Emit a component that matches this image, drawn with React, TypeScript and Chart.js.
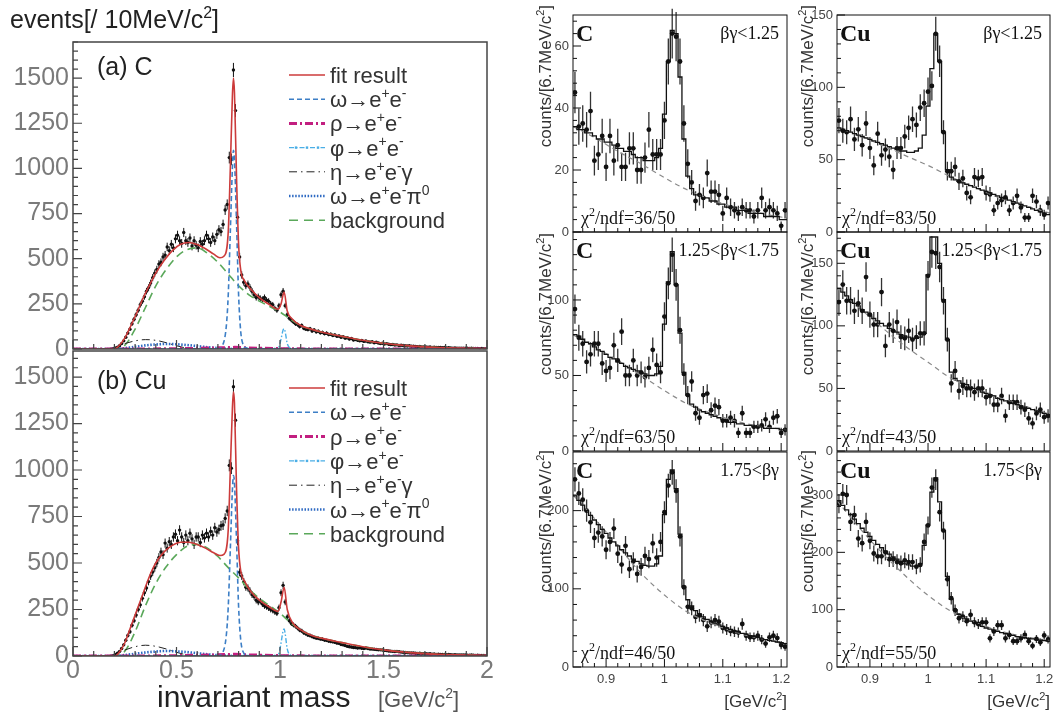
import React, { useEffect, useRef } from "react";
import { Chart, registerables } from "chart.js";

Chart.register(...registerables);

const W = 1055;
const H = 715;
const SANS = "'Liberation Sans', Arial, Helvetica, sans-serif";
const SERIF = "'Liberation Serif', 'Times New Roman', Times, serif";

// ================= LEFT: invariant mass spectra, 10 MeV/c^2 bins =================
const massBinStart = 0.205;
const massBinWidth = 0.01;
const massTicksX = [0, 0.5, 1, 1.5, 2];
const massTicksY = [0, 250, 500, 750, 1000, 1250, 1500];

const massCounts_C = [
  5, 10, 18, 30, 45, 65, 88, 110, 140, 165,
  190, 215, 245, 265, 290, 320, 340, 365, 395, 420,
  440, 470, 480, 510, 520, 565, 545, 580, 560, 610,
  630, 600, 585, 645, 600, 590, 615, 570, 600, 575,
  560, 595, 580, 600, 630, 610, 590, 620, 600, 635,
  660, 650, 690,
  770, 800, 1060, 1050, 1545, 1320, 730, 510,
  410, 370, 350, 360, 340, 320, 300, 285, 290, 280,
  275, 285, 270, 265, 250, 245, 225, 215, 240, 300,
  320, 240, 190, 170, 160, 150, 140, 135, 125, 130,
  115, 110, 108, 112, 100, 105, 95, 98, 90, 92,
  85, 88, 80, 82, 75, 78, 70, 72, 65, 68,
  60, 62, 55, 58, 50, 52, 48, 45, 47, 42,
  44, 40, 38, 40, 35, 37, 33, 30, 32, 28,
  30, 26, 24, 25, 22, 23, 20, 21, 19, 18,
  17, 18, 15, 16, 14, 13, 14, 12, 11, 12,
  10, 11, 9, 10, 8, 9, 8, 7, 8, 6,
  7, 6, 5, 6, 5, 5, 4, 5, 4, 4,
  3, 4, 3, 3, 3, 2, 3, 2, 2,
];

const massCounts_Cu = [
  8, 15, 25, 40, 60, 85, 110, 130, 165, 190,
  220, 250, 275, 310, 340, 366, 400, 430, 452, 475,
  500, 530, 559, 545, 607, 580, 615, 600, 640, 655,
  620, 677, 640, 610, 650, 620, 660, 630, 600, 640,
  640, 610, 650, 635, 660, 640, 670, 650, 690, 667,
  680, 700, 704,
  740, 780, 1025, 1010, 1448, 1268, 620, 450,
  430, 400, 370, 366, 350, 330, 320, 300, 290, 295,
  280, 270, 265, 258, 250, 245, 237, 230, 260, 340,
  380, 290, 210, 190, 175, 167, 160, 150, 140, 135,
  125, 120, 113, 110, 105, 100, 97, 95, 92, 90,
  86, 84, 80, 78, 77, 74, 70, 68, 62, 60,
  56, 52, 50, 48, 46, 45, 43, 44, 42, 40,
  43, 40, 38, 37, 36, 35, 34, 33, 32, 30,
  29, 27, 26, 25, 24, 25, 23, 21, 20, 19,
  18, 17, 16, 17, 15, 14, 15, 13, 12, 13,
  11, 12, 10, 11, 9, 10, 8, 9, 8, 7,
  8, 7, 6, 7, 6, 5, 6, 5, 5, 4,
  4, 5, 4, 3, 4, 3, 3, 3, 2,
];

// fit result (red)
const fitKnots_x = [0, 0.2, 0.22, 0.25, 0.28, 0.31, 0.34, 0.37, 0.4, 0.44, 0.48, 0.52, 0.56, 0.6, 0.64, 0.68, 0.71, 0.73, 0.75, 0.76, 0.77, 0.775, 0.78, 0.79, 0.8, 0.81, 0.83, 0.86, 0.9, 0.95, 0.99, 1.005, 1.02, 1.035, 1.06, 1.1, 1.15, 1.2, 1.3, 1.4, 1.5, 1.6, 1.7, 1.8, 1.9, 2.0];
const fit_C = [0, 0, 15, 60, 130, 205, 285, 355, 420, 490, 545, 580, 590, 578, 555, 525, 505, 515, 650, 1000, 1400, 1500, 1420, 950, 580, 440, 375, 330, 285, 245, 220, 250, 315, 210, 165, 130, 110, 94, 70, 48, 32, 20, 12, 7, 4, 2];
const fit_Cu = [0, 0, 15, 70, 160, 250, 340, 430, 500, 560, 595, 612, 612, 600, 580, 555, 540, 548, 680, 1000, 1330, 1420, 1360, 900, 580, 460, 400, 345, 300, 262, 240, 290, 370, 250, 180, 140, 112, 96, 72, 50, 33, 21, 13, 8, 5, 3];

// background (green dashed)
const bgKnots_x = [0, 0.2, 0.25, 0.3, 0.35, 0.4, 0.45, 0.5, 0.55, 0.6, 0.65, 0.7, 0.75, 0.8, 0.85, 0.9, 0.95, 1.0, 1.05, 1.1, 1.15, 1.2, 1.3, 1.4, 1.5, 1.6, 1.7, 1.8, 1.9, 2.0];
const bg_C = [0, 0, 20, 110, 230, 350, 440, 510, 550, 560, 530, 480, 415, 350, 300, 265, 235, 205, 165, 130, 110, 94, 70, 48, 32, 20, 12, 7, 4, 2];
const bg_Cu = [0, 0, 25, 130, 270, 390, 480, 545, 590, 600, 580, 535, 475, 420, 360, 310, 270, 230, 180, 140, 112, 96, 72, 50, 33, 21, 13, 8, 5, 3];

// omega -> e+e- (blue dashed)
const omegaKnots_x = [0, 0.7, 0.72, 0.74, 0.75, 0.76, 0.77, 0.775, 0.78, 0.79, 0.8, 0.81, 0.82, 0.84, 0.86, 2.0];
const omega_C = [0, 0, 15, 120, 300, 650, 1000, 1100, 1050, 700, 300, 100, 30, 5, 0, 0];
const omega_Cu = [0, 0, 13, 105, 265, 575, 890, 970, 930, 620, 265, 90, 27, 5, 0, 0];

// phi -> e+e- (light blue dash-dot)
const phiKnots_x = [0, 0.98, 0.995, 1.005, 1.015, 1.02, 1.025, 1.035, 1.05, 1.07, 2.0];
const phi_C = [0, 0, 12, 55, 105, 112, 95, 30, 4, 0, 0];
const phi_Cu = [0, 0, 15, 70, 135, 145, 120, 38, 5, 0, 0];

// eta -> e+e-gamma (black dash-dot)
const etaKnots_x = [0, 0.15, 0.2, 0.25, 0.3, 0.35, 0.4, 0.45, 0.5, 0.55, 0.6, 2.0];
const eta_C = [0, 0, 10, 30, 45, 52, 48, 35, 18, 5, 0, 0];
const eta_Cu = [0, 0, 10, 32, 50, 58, 52, 38, 20, 6, 0, 0];

// omega -> e+e-pi0 (blue dotted)
const omDalKnots_x = [0, 0.2, 0.25, 0.3, 0.35, 0.4, 0.45, 0.5, 0.55, 0.6, 0.65, 0.7, 0.75, 0.8, 2.0];
const omDal_C = [0, 0, 5, 12, 20, 25, 28, 26, 22, 16, 10, 5, 1, 0, 0];
const omDal_Cu = [0, 0, 5, 12, 19, 24, 27, 25, 21, 15, 9, 4, 1, 0, 0];

// rho -> e+e- (magenta dash-dot)
const rhoKnots_x = [0, 0.3, 0.5, 0.65, 0.75, 0.78, 0.85, 1.0, 1.2, 2.0];
const rho_C = [0, 0, 2, 5, 8, 9, 6, 2, 0, 0];
const rho_Cu = [0, 0, 2, 5, 8, 9, 6, 2, 0, 0];

const legendNames = ["fit result", "ω→e^{+}e^{-}", "ρ→e^{+}e^{-}", "φ→e^{+}e^{-}", "η→e^{+}e^{-}γ", "ω→e^{+}e^{-}π^{0}", "background"];

// ================= RIGHT: phi region, 6.7 MeV/c^2 bins =================
const phiBinStart = 0.8433;
const phiBinWidth = 0.006667;
const phiRangeMax = 1.21;
const phiTicksX = [0.9, 1.0, 1.1, 1.2];
const phiTicksY_C = [[0, 20, 40, 60], [0, 50, 100], [0, 100, 200]];
const phiTicksY_Cu = [[0, 50, 100, 150], [0, 50, 100, 150], [0, 100, 200, 300]];

const betaGammaLabels = ["βγ<1.25", "1.25<βγ<1.75", "1.75<βγ"];
const chi2_C = ["36/50", "63/50", "46/50"];
const chi2_Cu = ["83/50", "43/50", "55/50"];

const counts_C_1 = [45, 34, 35, 33, 39, 23, 25, 31, 21, 31, 23, 28, 21, 21, 27, 27, 20, 20, 24, 33, 25, 25, 25, 36, 55, 64, 63, 55, 35, 22, 16, 10, 12, 11, 19, 13, 13, 12, 6, 11, 8, 7, 6, 8, 7, 7, 5, 7, 11, 7, 8, 7, 6, 2, 7];
const counts_Cu_1 = [77, 70, 69, 78, 64, 71, 60, 75, 58, 46, 68, 53, 57, 52, 43, 58, 58, 66, 72, 78, 74, 86, 89, 97, 101, 137, 118, 69, 42, 42, 45, 35, 37, 27, 24, 38, 37, 38, 27, 26, 15, 20, 22, 24, 15, 20, 25, 17, 10, 10, 25, 21, 15, 12, 20];
const counts_C_2 = [94, 75, 71, 59, 64, 71, 71, 58, 53, 55, 70, 60, 79, 50, 50, 60, 50, 52, 49, 55, 67, 57, 52, 89, 111, 130, 110, 80, 51, 37, 46, 25, 22, 37, 38, 27, 30, 29, 20, 20, 22, 20, 12, 25, 12, 12, 16, 16, 17, 21, 16, 22, 23, 12, 14];
const counts_Cu_2 = [119, 133, 120, 120, 112, 118, 112, 139, 109, 101, 101, 127, 84, 101, 96, 103, 91, 90, 96, 89, 91, 94, 94, 140, 159, 158, 147, 120, 89, 54, 64, 48, 52, 50, 50, 47, 50, 50, 43, 44, 37, 37, 44, 28, 39, 39, 39, 35, 33, 26, 22, 30, 33, 27, 28];
const counts_C_3 = [240, 222, 214, 200, 185, 165, 172, 167, 150, 160, 177, 145, 131, 155, 125, 135, 119, 128, 142, 138, 158, 140, 160, 198, 232, 249, 225, 167, 102, 77, 75, 64, 66, 60, 52, 57, 60, 58, 50, 48, 46, 45, 44, 55, 40, 38, 38, 40, 35, 30, 38, 40, 37, 28, 26];
const counts_Cu_3 = [285, 302, 300, 253, 265, 224, 216, 253, 220, 198, 193, 193, 200, 188, 188, 183, 181, 186, 183, 183, 175, 178, 218, 247, 313, 327, 270, 238, 153, 120, 99, 85, 88, 80, 91, 78, 75, 78, 78, 50, 62, 73, 73, 50, 56, 45, 45, 50, 56, 45, 37, 49, 43, 55, 48];

const fitHist_C_1 = [34, 33, 33, 32, 32, 31, 30, 30, 29, 29, 28, 27, 27, 26, 26, 25, 24, 24, 23, 23, 23, 24, 27, 38, 55, 65, 64, 50, 30, 18, 14, 12, 12, 11, 11, 10, 10, 9, 9, 8, 8, 8, 7, 7, 7, 6, 6, 6, 6, 5, 5, 5, 5, 4, 4];
const fitHist_Cu_1 = [72, 71, 70, 69, 68, 67, 66, 65, 64, 63, 62, 61, 60, 59, 58, 57, 56, 56, 55, 55, 56, 58, 67, 87, 113, 137, 118, 69, 43, 38, 36, 35, 34, 33, 32, 31, 30, 29, 28, 27, 26, 25, 24, 23, 22, 21, 20, 19, 18, 17, 16, 15, 14, 13, 12];
const fitHist_C_2 = [77, 76, 74, 72, 71, 69, 67, 66, 64, 62, 61, 59, 58, 56, 55, 54, 53, 52, 51, 50, 50, 51, 56, 84, 112, 132, 110, 78, 52, 37, 31, 29, 27, 26, 25, 24, 23, 22, 21, 20, 19, 19, 18, 18, 17, 17, 16, 16, 16, 15, 15, 15, 15, 14, 14];
const fitHist_Cu_2 = [130, 127, 124, 121, 118, 116, 113, 111, 108, 106, 104, 102, 100, 98, 96, 95, 93, 92, 91, 90, 90, 91, 94, 141, 171, 171, 150, 121, 89, 63, 58, 56, 54, 53, 51, 50, 49, 47, 46, 45, 44, 42, 41, 40, 39, 38, 37, 36, 35, 34, 33, 32, 31, 30, 29];
const fitHist_C_3 = [219, 213, 207, 200, 194, 188, 182, 176, 171, 165, 160, 155, 150, 146, 142, 138, 135, 132, 130, 129, 129, 132, 142, 195, 240, 252, 228, 170, 103, 86, 78, 72, 68, 64, 61, 58, 56, 54, 52, 50, 48, 46, 45, 43, 42, 40, 39, 38, 36, 35, 34, 33, 32, 31, 30];
const fitHist_Cu_3 = [290, 282, 274, 266, 258, 250, 242, 235, 228, 221, 214, 208, 202, 197, 192, 188, 184, 180, 178, 176, 176, 180, 212, 248, 305, 330, 288, 238, 158, 118, 100, 92, 88, 84, 80, 77, 74, 71, 68, 66, 64, 62, 60, 58, 56, 55, 53, 52, 51, 50, 49, 48, 47, 46, 45];

const phiBgKnots_x = [0.8433, 0.88, 0.92, 0.96, 1.0, 1.04, 1.08, 1.12, 1.16, 1.21];
const phiBg_C_1 = [34, 30.5, 26, 22, 17.5, 13.5, 10.5, 8, 6.2, 4.5];
const phiBg_Cu_1 = [72, 67, 60, 53, 46, 38, 31, 24, 19, 13];
const phiBg_C_2 = [77, 69, 60, 50, 40, 31, 25, 20, 16.5, 14];
const phiBg_Cu_2 = [130, 115, 99, 84, 71, 58, 50, 43, 37, 29];
const phiBg_C_3 = [220, 190, 155, 120, 92, 70, 56, 45, 37, 30];
const phiBg_Cu_3 = [290, 245, 200, 160, 125, 97, 78, 64, 54, 46];

// ================= styles =================
const STY: Record<string, { color: string; width: number; dash: number[] }> = {
  fit: { color: "#cc3b3b", width: 1.6, dash: [] },
  omega: { color: "#3d7fc6", width: 1.6, dash: [5, 3] },
  rho: { color: "#c21f80", width: 3, dash: [8, 3, 2, 3] },
  phi: { color: "#4aaee6", width: 1.4, dash: [5, 2, 1.5, 2] },
  eta: { color: "#222222", width: 1, dash: [8, 4, 1.5, 4] },
  omDal: { color: "#2d69c2", width: 2.6, dash: [1.5, 1.6] },
  bg: { color: "#5aa85a", width: 1.6, dash: [8, 5] },
};
const legendStyleKeys = ["fit", "omega", "rho", "phi", "eta", "omDal", "bg"];

// ================= helpers =================
function richText(ctx: CanvasRenderingContext2D, text: string, x: number, y: number, size: number, family: string, color: string, align = "left", weight = "normal") {
  const segs: { t: string; m: number }[] = [];
  let i = 0;
  let buf = "";
  while (i < text.length) {
    if ((text[i] === "^" || text[i] === "_") && text[i + 1] === "{") {
      if (buf) { segs.push({ t: buf, m: 0 }); buf = ""; }
      const end = text.indexOf("}", i);
      segs.push({ t: text.slice(i + 2, end), m: text[i] === "^" ? 1 : -1 });
      i = end + 1;
    } else {
      buf += text[i];
      i++;
    }
  }
  if (buf) segs.push({ t: buf, m: 0 });
  const fontFor = (m: number) => `${weight} ${m === 0 ? size : Math.round(size * 0.65)}px ${family}`;
  let total = 0;
  for (const s of segs) { ctx.font = fontFor(s.m); total += ctx.measureText(s.t).width; }
  let cx = align === "left" ? x : align === "right" ? x - total : x - total / 2;
  ctx.fillStyle = color;
  ctx.textBaseline = "alphabetic";
  ctx.textAlign = "left";
  for (const s of segs) {
    ctx.font = fontFor(s.m);
    const dy = s.m === 1 ? -size * 0.42 : s.m === -1 ? size * 0.22 : 0;
    ctx.fillText(s.t, cx, y + dy);
    cx += ctx.measureText(s.t).width;
  }
}

function rotatedRich(ctx: CanvasRenderingContext2D, text: string, baseX: number, endY: number, size: number, family: string, color: string) {
  ctx.save();
  ctx.translate(baseX, endY);
  ctx.rotate(-Math.PI / 2);
  richText(ctx, text, 0, 0, size, family, color, "right");
  ctx.restore();
}

function pairs(xs: number[], ys: number[]) {
  return xs.map((x, i) => ({ x, y: ys[i] }));
}

type TickOpts = { color: string; width: number; tickWidth: number; majorLen: number; minorLen: number; xMajor: number; xMinor: number; yMajor: number; yMinor: number };

function drawFrameAndTicks(ctx: CanvasRenderingContext2D, chart: any, o: TickOpts) {
  const { left: L, right: R, top: T, bottom: B } = chart.chartArea;
  const xs = chart.scales.x;
  const ys = chart.scales.y;
  ctx.save();
  ctx.setLineDash([]);
  ctx.strokeStyle = o.color;
  ctx.lineWidth = o.width;
  ctx.strokeRect(L, T, R - L, B - T);
  ctx.lineWidth = o.tickWidth;
  ctx.beginPath();
  const y0 = Math.ceil(ys.min / o.yMinor - 1e-6);
  const y1 = Math.floor(ys.max / o.yMinor + 1e-6);
  for (let k = y0; k <= y1; k++) {
    const v = k * o.yMinor;
    const major = Math.abs(v / o.yMajor - Math.round(v / o.yMajor)) < 1e-6;
    const py = ys.getPixelForValue(v);
    ctx.moveTo(L, py);
    ctx.lineTo(L + (major ? o.majorLen : o.minorLen), py);
  }
  const x0 = Math.ceil(xs.min / o.xMinor - 1e-6);
  const x1 = Math.floor(xs.max / o.xMinor + 1e-6);
  for (let k = x0; k <= x1; k++) {
    const v = k * o.xMinor;
    const major = Math.abs(v / o.xMajor - Math.round(v / o.xMajor)) < 1e-6;
    const px = xs.getPixelForValue(v);
    ctx.moveTo(px, B);
    ctx.lineTo(px, B - (major ? o.majorLen : o.minorLen));
  }
  ctx.stroke();
  ctx.restore();
}

type Panel = {
  frame: { L: number; T: number; R: number; B: number };
  xMin: number; xMax: number; yMax: number;
  xTicks: number[]; yTicks: number[];
  showX: boolean;
  tickFont: { family: string; size: number };
  tickColor: string;
  xPad: number; yPad: number;
  datasets: any[];
  points: { x: number; y: number }[];
  halfBin: number;
  errColor: string; errWidth: number;
  ticks: TickOpts;
  draw: (ctx: CanvasRenderingContext2D) => void;
};

const Y_AXIS_W = 60;
const X_AXIS_H = 40;

function fmt(v: number) {
  return String(Math.round(v * 100) / 100);
}

function makeConfig(p: Panel): any {
  const { L, T, R, B } = p.frame;
  return {
    type: "line",
    data: { datasets: p.datasets },
    options: {
      animation: false,
      responsive: false,
      maintainAspectRatio: false,
      events: [],
      layout: { padding: { left: L - Y_AXIS_W, top: T, right: W - R, bottom: H - B - X_AXIS_H } },
      plugins: { legend: { display: false }, tooltip: { enabled: false } },
      scales: {
        x: {
          type: "linear", position: "bottom", min: p.xMin, max: p.xMax,
          grid: { display: false, drawTicks: false }, border: { display: false },
          ticks: {
            display: p.showX, autoSkip: false, maxRotation: 0,
            padding: p.xPad, font: p.tickFont, color: p.tickColor,
            callback: (v: number) => fmt(v),
          },
          afterBuildTicks: (s: any) => { s.ticks = p.xTicks.map((v) => ({ value: v })); },
          afterFit: (s: any) => { s.height = X_AXIS_H; s.paddingLeft = 0; s.paddingRight = 0; s.paddingTop = 0; s.paddingBottom = 0; },
        },
        y: {
          type: "linear", position: "left", min: 0, max: p.yMax,
          grid: { display: false, drawTicks: false }, border: { display: false },
          ticks: {
            autoSkip: false,
            padding: p.yPad, font: p.tickFont, color: p.tickColor,
            callback: (v: number) => fmt(v),
          },
          afterBuildTicks: (s: any) => { s.ticks = p.yTicks.map((v) => ({ value: v })); },
          afterFit: (s: any) => { s.width = Y_AXIS_W; s.paddingLeft = 0; s.paddingRight = 0; s.paddingTop = 0; s.paddingBottom = 0; },
        },
      },
    },
    plugins: [
      {
        id: "panelDecor",
        beforeDatasetsDraw(chart: any) {
          const ctx = chart.ctx as CanvasRenderingContext2D;
          const xs = chart.scales.x;
          const ys = chart.scales.y;
          ctx.save();
          ctx.setLineDash([]);
          ctx.strokeStyle = p.errColor;
          ctx.lineWidth = p.errWidth;
          ctx.beginPath();
          for (const pt of p.points) {
            const e = Math.sqrt(Math.max(pt.y, 0));
            const px = xs.getPixelForValue(pt.x);
            const py = ys.getPixelForValue(pt.y);
            ctx.moveTo(px, ys.getPixelForValue(pt.y - e));
            ctx.lineTo(px, ys.getPixelForValue(pt.y + e));
            ctx.moveTo(xs.getPixelForValue(pt.x - p.halfBin), py);
            ctx.lineTo(xs.getPixelForValue(pt.x + p.halfBin), py);
          }
          ctx.stroke();
          ctx.restore();
        },
        afterDraw(chart: any) {
          const ctx = chart.ctx as CanvasRenderingContext2D;
          drawFrameAndTicks(ctx, chart, p.ticks);
          ctx.save();
          p.draw(ctx);
          ctx.restore();
        },
      },
    ],
  };
}

function curve(xs: number[], ys: number[], key: string, order: number) {
  const s = STY[key];
  return {
    data: pairs(xs, ys), showLine: true, borderColor: s.color, borderWidth: s.width, borderDash: s.dash,
    pointRadius: 0, fill: false, cubicInterpolationMode: "monotone", order,
  };
}

function drawLegendSample(ctx: CanvasRenderingContext2D, key: string, y: number) {
  const s = STY[key];
  const x0 = 289;
  const x1 = 325;
  ctx.save();
  ctx.strokeStyle = s.color;
  ctx.lineWidth = s.width;
  ctx.setLineDash(key === "bg" ? [9, 6] : s.dash);
  ctx.beginPath();
  ctx.moveTo(x0, y);
  ctx.lineTo(x1, y);
  ctx.stroke();
  if (key === "phi") {
    ctx.fillStyle = s.color;
    for (const px of [296, 307, 318]) ctx.fillRect(px - 1.2, y - 1.2, 2.4, 2.4);
  }
  ctx.restore();
}

function leftPanel(which: "C" | "Cu"): Panel {
  const isC = which === "C";
  const counts = isC ? massCounts_C : massCounts_Cu;
  const points = counts.map((y, i) => ({ x: massBinStart + i * massBinWidth, y }));
  const frame = isC ? { L: 73, T: 42, R: 487, B: 349 } : { L: 73, T: 351, R: 487, B: 656 };
  const legendBase = isC ? 83 : 396;
  const legendStep = isC ? 24.2 : 24.3;
  const datasets = [
    { data: points, showLine: false, pointRadius: 1.7, pointBackgroundColor: "#111", pointBorderWidth: 0, order: 10 },
    curve(bgKnots_x, isC ? bg_C : bg_Cu, "bg", 6),
    curve(omDalKnots_x, isC ? omDal_C : omDal_Cu, "omDal", 5),
    curve(etaKnots_x, isC ? eta_C : eta_Cu, "eta", 5),
    curve(rhoKnots_x, isC ? rho_C : rho_Cu, "rho", 4),
    curve(phiKnots_x, isC ? phi_C : phi_Cu, "phi", 4),
    curve(omegaKnots_x, isC ? omega_C : omega_Cu, "omega", 3),
    curve(fitKnots_x, isC ? fit_C : fit_Cu, "fit", 1),
  ];
  return {
    frame, xMin: 0, xMax: 2, yMax: isC ? 1700 : 1640,
    xTicks: massTicksX, yTicks: massTicksY,
    showX: !isC,
    tickFont: { family: SANS, size: 25 }, tickColor: "#7a7a7a",
    xPad: 0, yPad: 4,
    datasets, points, halfBin: massBinWidth / 2,
    errColor: "#111", errWidth: 1,
    ticks: { color: "#444", width: 1.5, tickWidth: 1.2, majorLen: 9, minorLen: 5, xMajor: 0.5, xMinor: 0.1, yMajor: 250, yMinor: 50 },
    draw: (ctx) => {
      if (isC) richText(ctx, "events[/ 10MeV/c^{2}]", 10, 28, 25, SANS, "#222");
      richText(ctx, isC ? "(a) C" : "(b) Cu", 97, isC ? 75 : 389, 25, SANS, "#222");
      legendNames.forEach((name, i) => {
        const by = legendBase + i * legendStep;
        drawLegendSample(ctx, legendStyleKeys[i], by - 8);
        richText(ctx, name, 330, by, 22, SANS, "#333");
      });
      if (!isC) {
        richText(ctx, "invariant mass", 157, 707, 30, SANS, "#222");
        richText(ctx, "[GeV/c^{2}]", 378, 707, 22, SANS, "#555");
      }
    },
  };
}

function rightPanel(col: number, row: number): Panel {
  const isC = col === 0;
  const countsList = isC ? [counts_C_1, counts_C_2, counts_C_3] : [counts_Cu_1, counts_Cu_2, counts_Cu_3];
  const fitList = isC ? [fitHist_C_1, fitHist_C_2, fitHist_C_3] : [fitHist_Cu_1, fitHist_Cu_2, fitHist_Cu_3];
  const bgList = isC ? [phiBg_C_1, phiBg_C_2, phiBg_C_3] : [phiBg_Cu_1, phiBg_Cu_2, phiBg_Cu_3];
  const yMaxList = isC ? [70, 145, 275] : [150, 175, 375];
  const yTicksList = isC ? phiTicksY_C : phiTicksY_Cu;
  const cols = [[573, 787], [837, 1050]];
  const rows = [[15, 232], [232, 451], [452, 667]];
  const frame = { L: cols[col][0], T: rows[row][0], R: cols[col][1], B: rows[row][1] };
  const counts = countsList[row];
  const fit = fitList[row];
  const points = counts.map((y, i) => ({ x: phiBinStart + (i + 0.5) * phiBinWidth, y }));
  const fitPts = [
    { x: phiBinStart, y: fit[0] },
    ...fit.map((y, i) => ({ x: phiBinStart + (i + 0.5) * phiBinWidth, y })),
    { x: phiRangeMax, y: fit[fit.length - 1] },
  ];
  const datasets = [
    { data: points, showLine: false, pointRadius: 2.4, pointBackgroundColor: "#111", pointBorderWidth: 0, order: 10 },
    { data: pairs(phiBgKnots_x, bgList[row]), showLine: true, borderColor: "#8a8a8a", borderWidth: 1.2, borderDash: [5, 4], pointRadius: 0, cubicInterpolationMode: "monotone", order: 5 },
    { data: fitPts, showLine: true, stepped: "middle", borderColor: "#111", borderWidth: 1.3, pointRadius: 0, order: 1 },
  ];
  const yTicks = yTicksList[row];
  const yStep = yTicks[1] - yTicks[0];
  const titleEnd = [5, 233, 450][row];
  const { L, T, R, B } = frame;
  return {
    frame, xMin: phiBinStart, xMax: phiRangeMax, yMax: yMaxList[row],
    xTicks: phiTicksX, yTicks,
    showX: row === 2,
    tickFont: { family: SANS, size: 13 }, tickColor: "#444",
    xPad: 5, yPad: 4,
    datasets, points, halfBin: phiBinWidth / 2,
    errColor: "#333", errWidth: 1.3,
    ticks: { color: "#111", width: 1, tickWidth: 1, majorLen: 8, minorLen: 4, xMajor: 0.1, xMinor: 0.02, yMajor: yStep, yMinor: yStep / 5 },
    draw: (ctx) => {
      richText(ctx, isC ? "C" : "Cu", L + 3, T + 26, 24, SERIF, "#111", "left", "bold");
      richText(ctx, betaGammaLabels[row], R - 8, T + 24, 18, SERIF, "#111", "right");
      richText(ctx, "χ^{2}/ndf=" + (isC ? chi2_C[row] : chi2_Cu[row]), L + (isC ? 8 : 5), B - 8, 18, SERIF, "#111");
      rotatedRich(ctx, "counts/[6.7MeV/c^{2}]", isC ? 551 : 813, titleEnd, 17, SANS, "#333");
      if (row === 2) richText(ctx, "[GeV/c^{2}]", R, 707, 17, SANS, "#333", "right");
    },
  };
}

const PANELS: Panel[] = [
  leftPanel("C"),
  leftPanel("Cu"),
  rightPanel(0, 0), rightPanel(1, 0),
  rightPanel(0, 1), rightPanel(1, 1),
  rightPanel(0, 2), rightPanel(1, 2),
];

export default function App() {
  const refs = useRef<(HTMLCanvasElement | null)[]>([]);
  useEffect(() => {
    const charts = PANELS.map((p, i) => new Chart(refs.current[i] as HTMLCanvasElement, makeConfig(p)));
    return () => charts.forEach((c) => c.destroy());
  }, []);
  return (
    <div style={{ position: "fixed", left: 0, top: 0, width: W, height: H, background: "#ffffff", overflow: "hidden" }}>
      {PANELS.map((_, i) => (
        <canvas
          key={i}
          ref={(el) => { refs.current[i] = el; }}
          width={W}
          height={H}
          style={{ position: "absolute", left: 0, top: 0, width: W, height: H }}
        />
      ))}
    </div>
  );
}
